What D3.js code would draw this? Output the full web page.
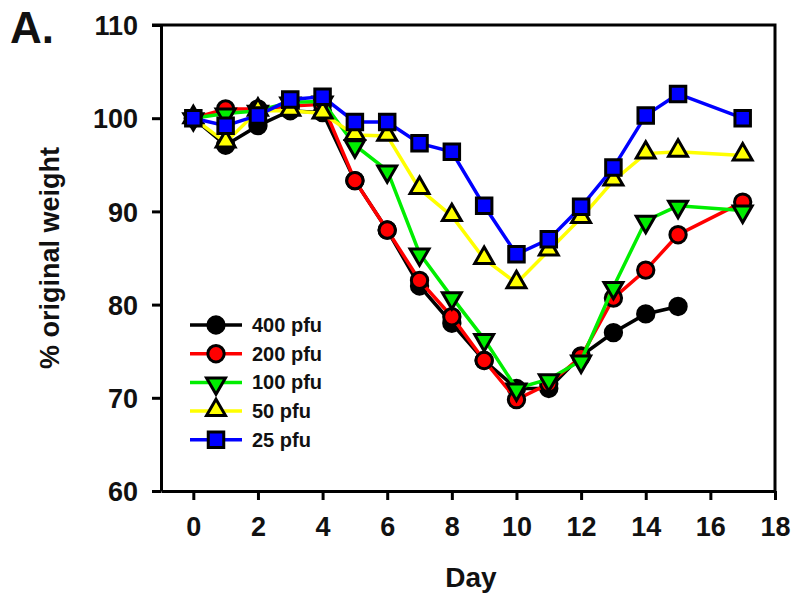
<!DOCTYPE html>
<html lang="en">
<head>
    <meta charset="UTF-8">
    <title>Weight loss by dose</title>
    <script src="https://d3js.org/d3.v7.min.js"></script>
    <style>
        body {
            margin: 0;
            background: #fff;
            font-family: "Liberation Sans", Arial, sans-serif;
        }
        svg text {
            font-weight: bold;
            fill: #111;
        }
    </style>
</head>
<body>
    <svg id="chart" width="795" height="605"></svg>

    <script>
        // Data
        const days = [0, 1, 2, 3, 4, 5, 6, 7, 8, 9, 10, 11, 12, 13, 14, 15, 17];
        const pfu400 = [100, 97.1, 99.2, 100.8, 100.6, 93.3, 88, 82, 78, 74, 71, 71, 74.5, 77, 79, 79.8];
        const pfu200 = [100, 101, 101, 101.3, 101.5, 93.3, 88, 82.6, 78.7, 74, 69.8, 71.5, 74.4, 80.7, 83.7, 87.5, 91];
        const pfu100 = [100, 100.5, 100.8, 101.7, 101.8, 97.1, 94.4, 85.5, 80.8, 76.3, 71, 72, 74, 81.9, 89, 90.6, 90.1];
        const pfu50 = [100, 97.4, 100.8, 100.8, 100.5, 98.2, 98.1, 92.4, 89.5, 84.9, 82.3, 85.8, 89.3, 93.3, 96.2, 96.4, 96];
        const pfu25 = [100, 99.2, 100.3, 102, 102.3, 99.6, 99.6, 97.3, 96.4, 90.6, 85.4, 87, 90.5, 94.7, 100.3, 102.6, 100];
        const seriesNames = ["400 pfu", "200 pfu", "100 pfu", "50 pfu", "25 pfu"];
        const xTicks = [0, 2, 4, 6, 8, 10, 12, 14, 16, 18];
        const yTicks = [60, 70, 80, 90, 100, 110];

        const series = [
            { name: seriesNames[0], values: pfu400, color: "#000000", symbol: d3.symbolCircle },
            { name: seriesNames[1], values: pfu200, color: "#ff0000", symbol: d3.symbolCircle },
            { name: seriesNames[2], values: pfu100, color: "#00ee00", symbol: "down" },
            { name: seriesNames[3], values: pfu50, color: "#ffff00", symbol: d3.symbolTriangle },
            { name: seriesNames[4], values: pfu25, color: "#0000ff", symbol: d3.symbolSquare }
        ];

        const svg = d3.select("#chart");
        const plotL = 161, plotR = 775, plotT = 25, plotB = 491;

        const x = d3.scaleLinear().domain([-1, 18]).range([plotL, plotR]);
        const y = d3.scaleLinear().domain([60, 110]).range([plotB, plotT]);

        // Frame (top and right)
        svg.append("path")
            .attr("d", `M${plotL - 9},${plotT} H${plotR} V${plotB}`)
            .attr("fill", "none")
            .attr("stroke", "#000")
            .attr("stroke-width", 3);

        // Axes
        const yAxis = svg.append("g")
            .attr("transform", `translate(${plotL},0)`)
            .call(d3.axisLeft(y).tickValues(yTicks).tickSize(9).tickSizeOuter(0).tickPadding(14));
        const xAxis = svg.append("g")
            .attr("transform", `translate(0,${plotB})`)
            .call(d3.axisBottom(x).tickValues(xTicks).tickSize(9).tickSizeOuter(0).tickPadding(17));

        [yAxis, xAxis].forEach(g => {
            g.select(".domain").attr("stroke-width", 3);
            g.selectAll(".tick line").attr("stroke-width", 3);
            g.selectAll(".tick text").style("font-size", "27px").style("font-family", "'Liberation Sans', Arial, sans-serif");
        });
        yAxis.selectAll(".tick text").attr("dy", "0.36em");

        // Markers
        function markerPath(sym) {
            if (sym === "down") {
                return d3.symbol().type(d3.symbolTriangle).size(155)();
            }
            return d3.symbol().type(sym).size(sym === d3.symbolSquare ? 240 : sym === d3.symbolTriangle ? 155 : 210)();
        }
        function markerTransform(sym, px, py) {
            if (sym === "down") return `translate(${px},${py + 1}) rotate(180)`;
            if (sym === d3.symbolTriangle) return `translate(${px},${py - 1})`;
            return `translate(${px},${py})`;
        }

        const line = d3.line()
            .x((d, i) => x(days[i]))
            .y(d => y(d));

        series.forEach(s => {
            const g = svg.append("g");
            g.append("path")
                .datum(s.values)
                .attr("d", line)
                .attr("fill", "none")
                .attr("stroke", s.color)
                .attr("stroke-width", 3.5);
            g.selectAll("path.pt")
                .data(s.values)
                .enter()
                .append("path")
                .attr("class", "pt")
                .attr("d", markerPath(s.symbol))
                .attr("transform", (d, i) => markerTransform(s.symbol, x(days[i]), y(d)))
                .attr("fill", s.color)
                .attr("stroke", "#000")
                .attr("stroke-width", 3);
        });

        // Legend
        const legend = svg.append("g").attr("transform", "translate(190,325)");
        series.forEach((s, i) => {
            const row = legend.append("g").attr("transform", `translate(0,${i * 28.7})`);
            row.append("line")
                .attr("x1", 0).attr("x2", 52)
                .attr("stroke", s.color)
                .attr("stroke-width", 3.5);
            row.append("path")
                .attr("d", markerPath(s.symbol))
                .attr("transform", markerTransform(s.symbol, 26, 0))
                .attr("fill", s.color)
                .attr("stroke", "#000")
                .attr("stroke-width", 3);
            row.append("text")
                .attr("x", 62)
                .attr("y", 7)
                .style("font-size", "20px")
                .text(s.name);
        });

        // Titles
        svg.append("text")
            .attr("x", 10).attr("y", 43)
            .style("font-size", "44px")
            .text("A.");

        svg.append("text")
            .attr("transform", "translate(59,258) rotate(-90)")
            .attr("text-anchor", "middle")
            .style("font-size", "27px")
            .text("% original weight");

        svg.append("text")
            .attr("x", (plotL + plotR) / 2 + 3)
            .attr("y", 587)
            .attr("text-anchor", "middle")
            .style("font-size", "28px")
            .text("Day");
    </script>
</body>
</html>
